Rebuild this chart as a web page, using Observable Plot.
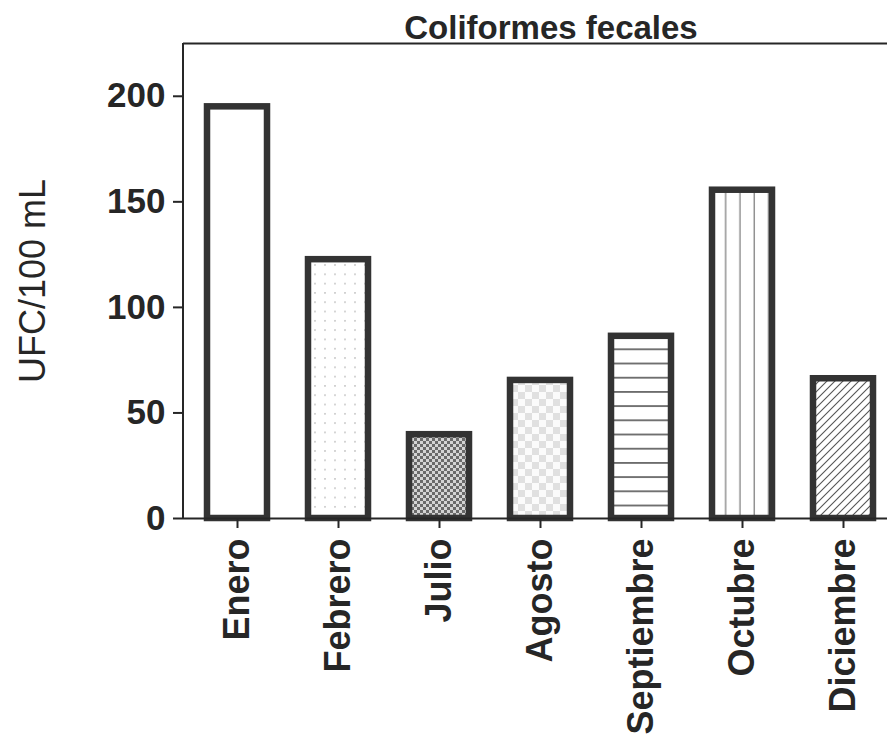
<!DOCTYPE html>
<html><head><meta charset="utf-8">
<script src="https://cdn.jsdelivr.net/npm/d3@7"></script>
<script src="https://cdn.jsdelivr.net/npm/@observablehq/plot@0.6"></script>
<style>
body{margin:0;background:#fff;}
#chart{width:887px;height:737px;overflow:hidden;}
</style></head><body><div id="chart"></div>
<script>
const months = ["Enero","Febrero","Julio","Agosto","Septiembre","Octubre","Diciembre"];
const values = [195, 122.6, 39.7, 65.4, 86.3, 155.5, 66.2];
const patterns = ["none","dots","finecheck","lightcheck","hlines","vlines","diag"];
const yTicks = [0, 50, 100, 150, 200];
const title = "Coliformes fecales";
const yLabel = "UFC/100 mL";

const data = months.map((m, i) => ({month: m, value: values[i], pattern: patterns[i]}));
const fillOf = p => p === "none" ? "white" : `url(#pat-${p})`;
const ink = "#262626";
const font = "'Liberation Sans', Arial, sans-serif";

const plot = Plot.plot({
  width: 887, height: 737,
  marginTop: 43, marginBottom: 219, marginLeft: 183, marginRight: -9,
  style: {fontFamily: font, background: "white", color: ink},
  x: {domain: months, paddingInner: 0.41, paddingOuter: 0.217, label: null, axis: null},
  y: {domain: [0, 225], label: null, axis: null},
  marks: [
    ...data.map(d => Plot.barY([d], {x: "month", y: "value", fill: fillOf(d.pattern), stroke: "#333", strokeWidth: 6.5})),
    Plot.ruleY([0], {stroke: ink, strokeWidth: 2}),
    Plot.ruleY([225], {stroke: ink, strokeWidth: 2}),
    Plot.axisY({ticks: yTicks, tickSize: 10, tickPadding: 8, fontSize: 35, fontWeight: "bold", label: null, stroke: ink, strokeWidth: 2}),
    Plot.axisX({tickSize: 10, tickPadding: 10, tickRotate: -90, fontSize: 36, fontWeight: "bold", label: null, stroke: ink, strokeWidth: 2}),
    Plot.text([title], {frameAnchor: "top", lineAnchor: "middle", dy: -15, dx: 11, fontSize: 33, fontWeight: "bold", fill: ink}),
    Plot.text([yLabel], {frameAnchor: "left", textAnchor: "middle", lineAnchor: "middle", dx: -150, rotate: -90, fontSize: 36, fill: ink})
  ]
});

// y axis line
const svg = d3.select(plot);
svg.append("line").attr("x1", 183).attr("x2", 183).attr("y1", 43).attr("y2", 519)
  .attr("stroke", ink).attr("stroke-width", 2);

const defs = svg.insert("defs", ":first-child");
function pat(id, w, h) {
  return defs.append("pattern").attr("id", "pat-" + id).attr("patternUnits", "userSpaceOnUse")
    .attr("width", w).attr("height", h);
}
let p = pat("dots", 10, 9.3);
p.append("rect").attr("width", 10).attr("height", 9.3).attr("fill", "white");
p.append("circle").attr("cx", 5).attr("cy", 4.6).attr("r", 0.8).attr("fill", "#b5b5b5");

p = pat("finecheck", 6, 6);
p.append("rect").attr("width", 6).attr("height", 6).attr("fill", "#d4d4d4");
p.append("rect").attr("width", 3).attr("height", 3).attr("fill", "#6a6a6a");
p.append("rect").attr("x", 3).attr("y", 3).attr("width", 3).attr("height", 3).attr("fill", "#6a6a6a");

p = pat("lightcheck", 14, 14);
p.append("rect").attr("width", 14).attr("height", 14).attr("fill", "#fbfbfb");
p.append("rect").attr("width", 7).attr("height", 7).attr("fill", "#e0e0e0");
p.append("rect").attr("x", 7).attr("y", 7).attr("width", 7).attr("height", 7).attr("fill", "#e0e0e0");

p = pat("hlines", 10, 14.2);
p.append("rect").attr("width", 10).attr("height", 14.2).attr("fill", "white");
p.append("line").attr("x1", 0).attr("x2", 10).attr("y1", 8.5).attr("y2", 8.5).attr("stroke", "#555").attr("stroke-width", 1.6);

p = pat("vlines", 14.3, 10);
p.append("rect").attr("width", 14.3).attr("height", 10).attr("fill", "white");
p.append("line").attr("x1", 10.7).attr("x2", 10.7).attr("y1", 0).attr("y2", 10).attr("stroke", "#8a8a8a").attr("stroke-width", 1.4);

p = pat("diag", 8, 8);
p.append("rect").attr("width", 8).attr("height", 8).attr("fill", "white");
p.append("path").attr("d", "M-2,2L2,-2M0,8L8,0M6,10L10,6").attr("stroke", "#555").attr("stroke-width", 1.1);

document.getElementById("chart").appendChild(plot);
</script></body></html>
